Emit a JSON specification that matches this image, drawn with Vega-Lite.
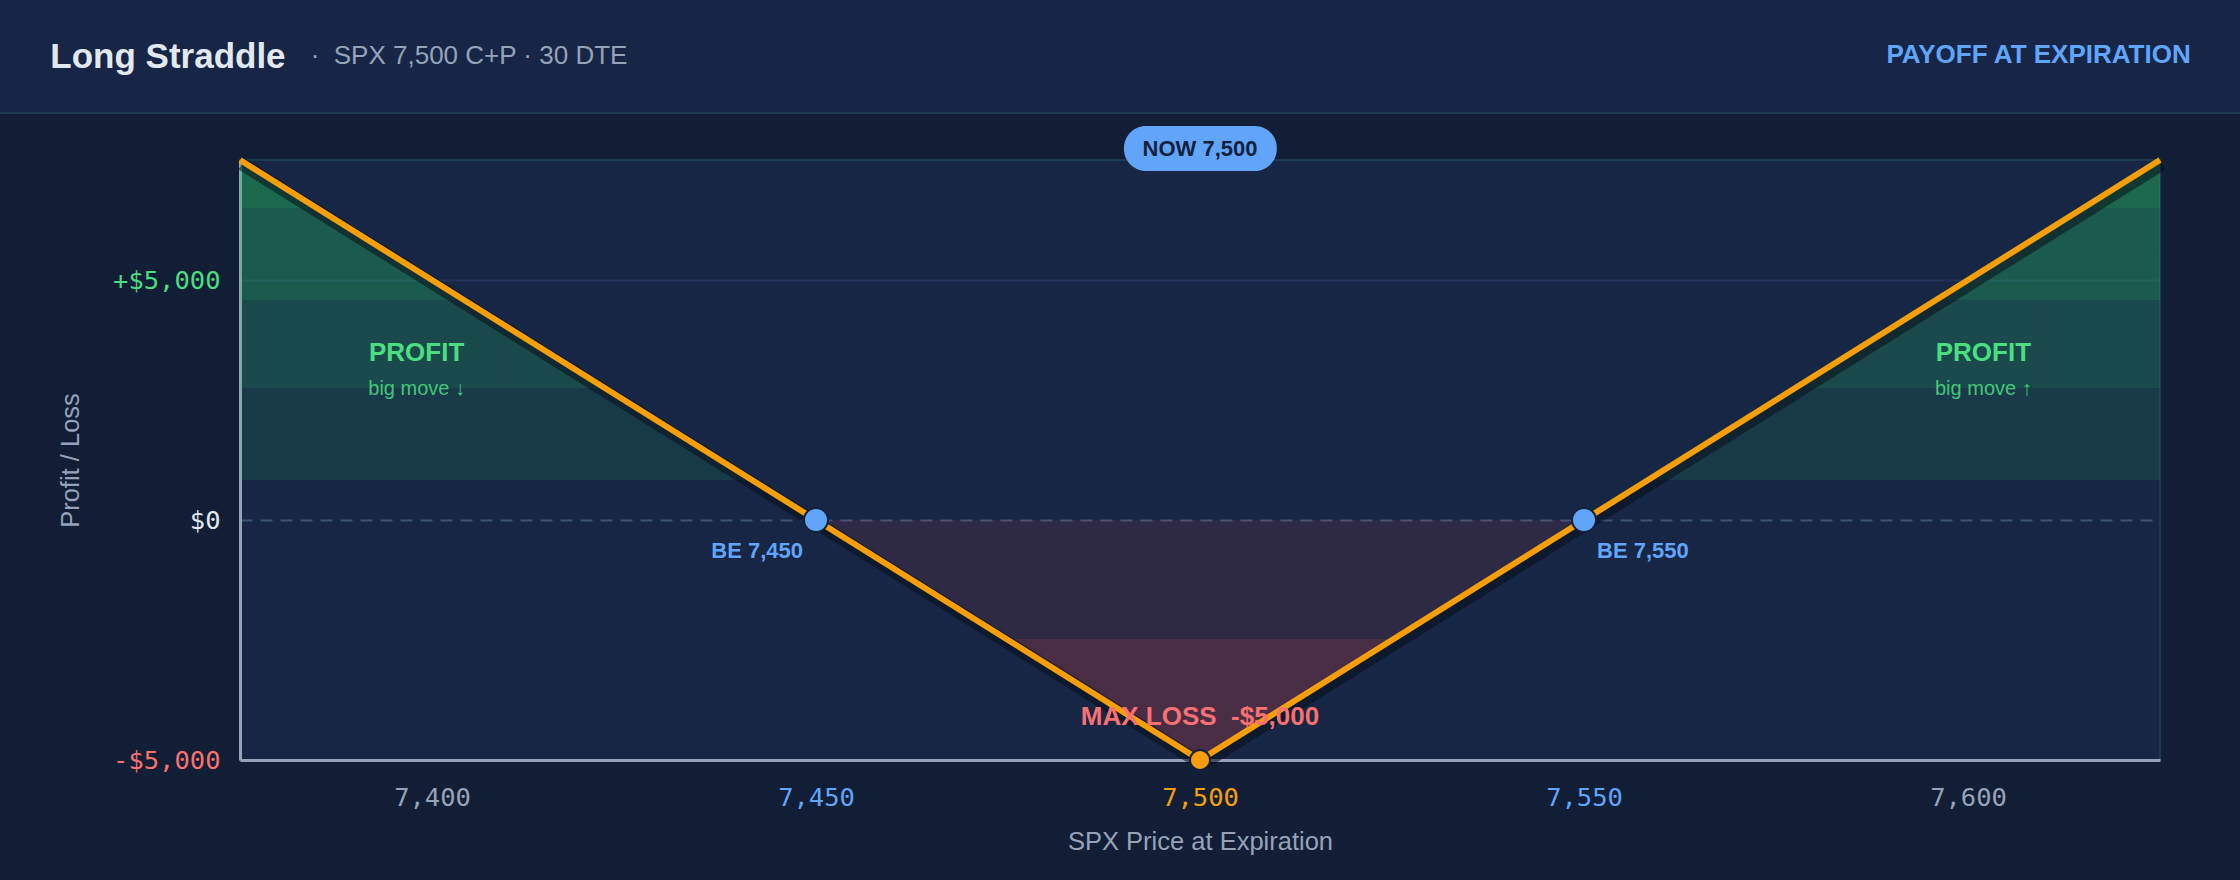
{
  "$schema": "https://vega.github.io/schema/vega-lite/v6.json",
  "width": 1920,
  "height": 600,
  "autosize": {"type": "none"},
  "padding": {"left": 240, "top": 160, "right": 80, "bottom": 120},
  "background": "#111e36",
  "view": {"fill": "#172645", "stroke": "#1c3a52", "strokeWidth": 2},
  "config": {"font": "Liberation Sans"},
  "datasets": {
    "payoff": [
      {"price": 7375, "pnl": 7500},
      {"price": 7400, "pnl": 5000},
      {"price": 7450, "pnl": 0},
      {"price": 7500, "pnl": -5000},
      {"price": 7550, "pnl": 0},
      {"price": 7600, "pnl": 5000},
      {"price": 7625, "pnl": 7500}
    ],
    "levels": [
      {"price": 7450, "kind": "BE"},
      {"price": 7500, "kind": "NOW"},
      {"price": 7550, "kind": "BE"}
    ],
    "panels": [
      {"role": "header", "price": 7343.75, "price2": 7635.4, "pnl": 10833, "pnl2": 8479},
      {"role": "pill", "price": 7490.1, "price2": 7510, "pnl": 8208, "pnl2": 7271}
    ],
    "notes": [
      {"role": "title", "label": "Long Straddle", "price": 7350.3, "pnl": 9417},
      {"role": "subtitle", "label": "·\u00a0 SPX 7,500 C+P · 30 DTE", "price": 7384.2, "pnl": 9500},
      {"role": "tag", "label": "PAYOFF AT EXPIRATION", "price": 7629, "pnl": 9521},
      {"role": "profit", "label": "PROFIT", "price": 7398, "pnl": 3312},
      {"role": "profit", "label": "PROFIT", "price": 7602, "pnl": 3312},
      {"role": "move", "label": "big move ↓", "price": 7398, "pnl": 2604},
      {"role": "move", "label": "big move ↑", "price": 7602, "pnl": 2604},
      {"role": "beL", "label": "BE 7,450", "price": 7450, "pnl": -800},
      {"role": "beR", "label": "BE 7,550", "price": 7550, "pnl": -800},
      {"role": "loss", "label": "MAX LOSS\u00a0 -$5,000", "price": 7500, "pnl": -4271},
      {"role": "now", "label": "NOW 7,500", "price": 7500, "pnl": 7583}
    ]
  },
  "encoding": {
    "x": {
      "field": "price",
      "type": "quantitative",
      "scale": {"domain": [7375, 7625], "nice": false, "zero": false},
      "axis": {
        "title": "SPX Price at Expiration",
        "values": [7400, 7450, 7500, 7550, 7600],
        "format": ",.0f",
        "grid": false,
        "ticks": false,
        "tickSize": 0,
        "domainColor": "#94a3b8",
        "domainWidth": 3,
        "labelFont": "DejaVu Sans Mono",
        "labelFontSize": 25.5,
        "labelPadding": 25,
        "labelFlush": false,
        "labelOverlap": false,
        "labelColor": {
          "condition": [
            {"test": "datum.value === 7500", "value": "#f59e0b"},
            {"test": "datum.value === 7450 || datum.value === 7550", "value": "#60a5fa"}
          ],
          "value": "#94a3b8"
        },
        "titleFont": "Liberation Sans",
        "titleFontSize": 25.5,
        "titleFontWeight": "normal",
        "titleColor": "#94a3b8",
        "titleBaseline": "alphabetic",
        "titleY": 89
      }
    },
    "y": {
      "field": "pnl",
      "type": "quantitative",
      "scale": {"domain": [-5000, 7500], "nice": false, "zero": false},
      "axis": {
        "title": "Profit / Loss",
        "values": [-5000, 0, 5000],
        "labelExpr": "datum.value > 0 ? '+$' + format(datum.value, ',') : datum.value < 0 ? '-$' + format(-datum.value, ',') : '$0'",
        "grid": true,
        "gridWidth": 2,
        "gridColor": {"condition": {"test": "datum.value === 0", "value": "#3b5478"}, "value": "#22335a"},
        "gridDash": {"condition": {"test": "datum.value === 0", "value": [12, 8]}, "value": []},
        "ticks": false,
        "tickSize": 0,
        "domainColor": "#94a3b8",
        "domainWidth": 3,
        "labelFont": "DejaVu Sans Mono",
        "labelFontSize": 25.5,
        "labelPadding": 20,
        "labelFlush": false,
        "labelOverlap": false,
        "labelColor": {
          "condition": [
            {"test": "datum.value > 0", "value": "#4ade80"},
            {"test": "datum.value < 0", "value": "#f87171"}
          ],
          "value": "#e2e8f0"
        },
        "titleFont": "Liberation Sans",
        "titleFontSize": 25.5,
        "titleFontWeight": "normal",
        "titleColor": "#94a3b8",
        "titleAngle": -90,
        "titleAlign": "center",
        "titleBaseline": "alphabetic",
        "titleX": -162,
        "titleY": 300
      }
    }
  },
  "layer": [
    {
      "data": {"name": "panels"},
      "transform": [{"filter": "datum.role === 'header'"}],
      "mark": {"type": "rect", "fill": "#172647"},
      "encoding": {
        "x2": {"field": "price2"},
        "y2": {"field": "pnl2"}
      }
    },
    {
      "data": {"name": "panels"},
      "transform": [{"filter": "datum.role === 'header'"}],
      "mark": {"type": "rule", "stroke": "#1c3a52", "strokeWidth": 2},
      "encoding": {
        "x2": {"field": "price2"},
        "y": {"field": "pnl2"}
      }
    },
    {
      "data": {"name": "payoff"},
      "transform": [{"filter": "datum.price <= 7450 || datum.price >= 7550"}, {"calculate": "datum.price < 7500 ? 'L' : 'R'", "as": "side"}],
      "mark": {
        "type": "area",
        "fill": {
          "gradient": "linear", "x1": 0, "y1": 0, "x2": 0, "y2": 1,
          "stops": [
            {"offset": 0, "color": "rgba(34,197,94,0.42)"},
            {"offset": 0.132, "color": "rgba(34,197,94,0.42)"},
            {"offset": 0.132, "color": "rgba(34,197,94,0.33)"},
            {"offset": 0.389, "color": "rgba(34,197,94,0.33)"},
            {"offset": 0.389, "color": "rgba(34,197,94,0.225)"},
            {"offset": 0.632, "color": "rgba(34,197,94,0.225)"},
            {"offset": 0.632, "color": "rgba(34,197,94,0.125)"},
            {"offset": 0.889, "color": "rgba(34,197,94,0.125)"},
            {"offset": 0.889, "color": "rgba(34,197,94,0)"},
            {"offset": 1, "color": "rgba(34,197,94,0)"}
          ]
        }
      },
      "encoding": {
        "y2": {"datum": 0},
        "detail": {"field": "side"}
      }
    },
    {
      "data": {"name": "payoff"},
      "transform": [{"filter": "datum.price >= 7450 && datum.price <= 7550"}],
      "mark": {
        "type": "area",
        "fill": {
          "gradient": "linear", "x1": 0, "y1": 0, "x2": 0, "y2": 1,
          "stops": [
            {"offset": 0, "color": "rgba(239,68,68,0.106)"},
            {"offset": 0.496, "color": "rgba(239,68,68,0.106)"},
            {"offset": 0.496, "color": "rgba(239,68,68,0.227)"},
            {"offset": 1, "color": "rgba(239,68,68,0.227)"}
          ]
        }
      },
      "encoding": {"y2": {"datum": 0}}
    },
    {
      "data": {"name": "levels"},
      "mark": {"type": "rule", "strokeWidth": 2.5, "strokeDash": [10, 6]},
      "encoding": {
        "y": {"datum": 7500},
        "y2": {"datum": -5000},
        "color": {"field": "kind", "type": "nominal", "scale": {"domain": ["BE", "NOW"], "range": ["#60a5fa", "#f59e0b"]}, "legend": null}
      }
    },
    {
      "data": {"name": "payoff"},
      "mark": {"type": "line", "color": "#0a0f1c", "strokeWidth": 13, "opacity": 0.55, "xOffset": 2, "yOffset": 4},
      "encoding": {}
    },
    {
      "data": {"name": "payoff"},
      "mark": {"type": "line", "color": "#f59e0b", "strokeWidth": 6},
      "encoding": {}
    },
    {
      "data": {"name": "payoff"},
      "transform": [{"filter": "datum.pnl === 0"}],
      "mark": {"type": "circle", "size": 576, "fill": "#60a5fa", "stroke": "#13213d", "strokeWidth": 2, "opacity": 1},
      "encoding": {}
    },
    {
      "data": {"name": "payoff"},
      "transform": [{"filter": "datum.pnl === -5000"}],
      "mark": {"type": "circle", "size": 400, "fill": "#f59e0b", "stroke": "#13213d", "strokeWidth": 2, "opacity": 1},
      "encoding": {}
    },
    {
      "data": {"name": "notes"},
      "transform": [{"filter": "datum.role === 'title'"}],
      "mark": {"type": "text", "align": "left", "baseline": "alphabetic", "font": "Liberation Sans", "fontSize": 35, "fontWeight": "bold", "color": "#e2e8f0"},
      "encoding": {"text": {"field": "label"}}
    },
    {
      "data": {"name": "notes"},
      "transform": [{"filter": "datum.role === 'subtitle'"}],
      "mark": {"type": "text", "align": "left", "baseline": "alphabetic", "font": "Liberation Sans", "fontSize": 26, "color": "#94a3b8"},
      "encoding": {"text": {"field": "label"}}
    },
    {
      "data": {"name": "notes"},
      "transform": [{"filter": "datum.role === 'tag'"}],
      "mark": {"type": "text", "align": "right", "baseline": "alphabetic", "font": "Liberation Sans", "fontSize": 26, "fontWeight": "bold", "color": "#60a5fa"},
      "encoding": {"text": {"field": "label"}}
    },
    {
      "data": {"name": "notes"},
      "transform": [{"filter": "datum.role === 'profit'"}],
      "mark": {"type": "text", "align": "center", "baseline": "alphabetic", "font": "Liberation Sans", "fontSize": 26, "fontWeight": "bold", "color": "#4ade80"},
      "encoding": {"text": {"field": "label"}}
    },
    {
      "data": {"name": "notes"},
      "transform": [{"filter": "datum.role === 'move'"}],
      "mark": {"type": "text", "align": "center", "baseline": "alphabetic", "font": "Liberation Sans", "fontSize": 20, "color": "#4ade80", "opacity": 0.85},
      "encoding": {"text": {"field": "label"}}
    },
    {
      "data": {"name": "notes"},
      "transform": [{"filter": "datum.role === 'beL'"}],
      "mark": {"type": "text", "align": "right", "dx": -13, "baseline": "alphabetic", "font": "Liberation Sans", "fontSize": 22, "fontWeight": "bold", "color": "#60a5fa"},
      "encoding": {"text": {"field": "label"}}
    },
    {
      "data": {"name": "notes"},
      "transform": [{"filter": "datum.role === 'beR'"}],
      "mark": {"type": "text", "align": "left", "dx": 13, "baseline": "alphabetic", "font": "Liberation Sans", "fontSize": 22, "fontWeight": "bold", "color": "#60a5fa"},
      "encoding": {"text": {"field": "label"}}
    },
    {
      "data": {"name": "notes"},
      "transform": [{"filter": "datum.role === 'loss'"}],
      "mark": {"type": "text", "align": "center", "baseline": "alphabetic", "font": "Liberation Sans", "fontSize": 26, "fontWeight": "bold", "color": "#f87171"},
      "encoding": {"text": {"field": "label"}}
    },
    {
      "data": {"name": "panels"},
      "transform": [{"filter": "datum.role === 'pill'"}],
      "mark": {"type": "rect", "fill": "#60a5fa", "cornerRadius": 22},
      "encoding": {
        "x2": {"field": "price2"},
        "y2": {"field": "pnl2"}
      }
    },
    {
      "data": {"name": "notes"},
      "transform": [{"filter": "datum.role === 'now'"}],
      "mark": {"type": "text", "align": "center", "baseline": "alphabetic", "font": "Liberation Sans", "fontSize": 22, "fontWeight": "bold", "color": "#13213d"},
      "encoding": {"text": {"field": "label"}}
    }
  ]
}
